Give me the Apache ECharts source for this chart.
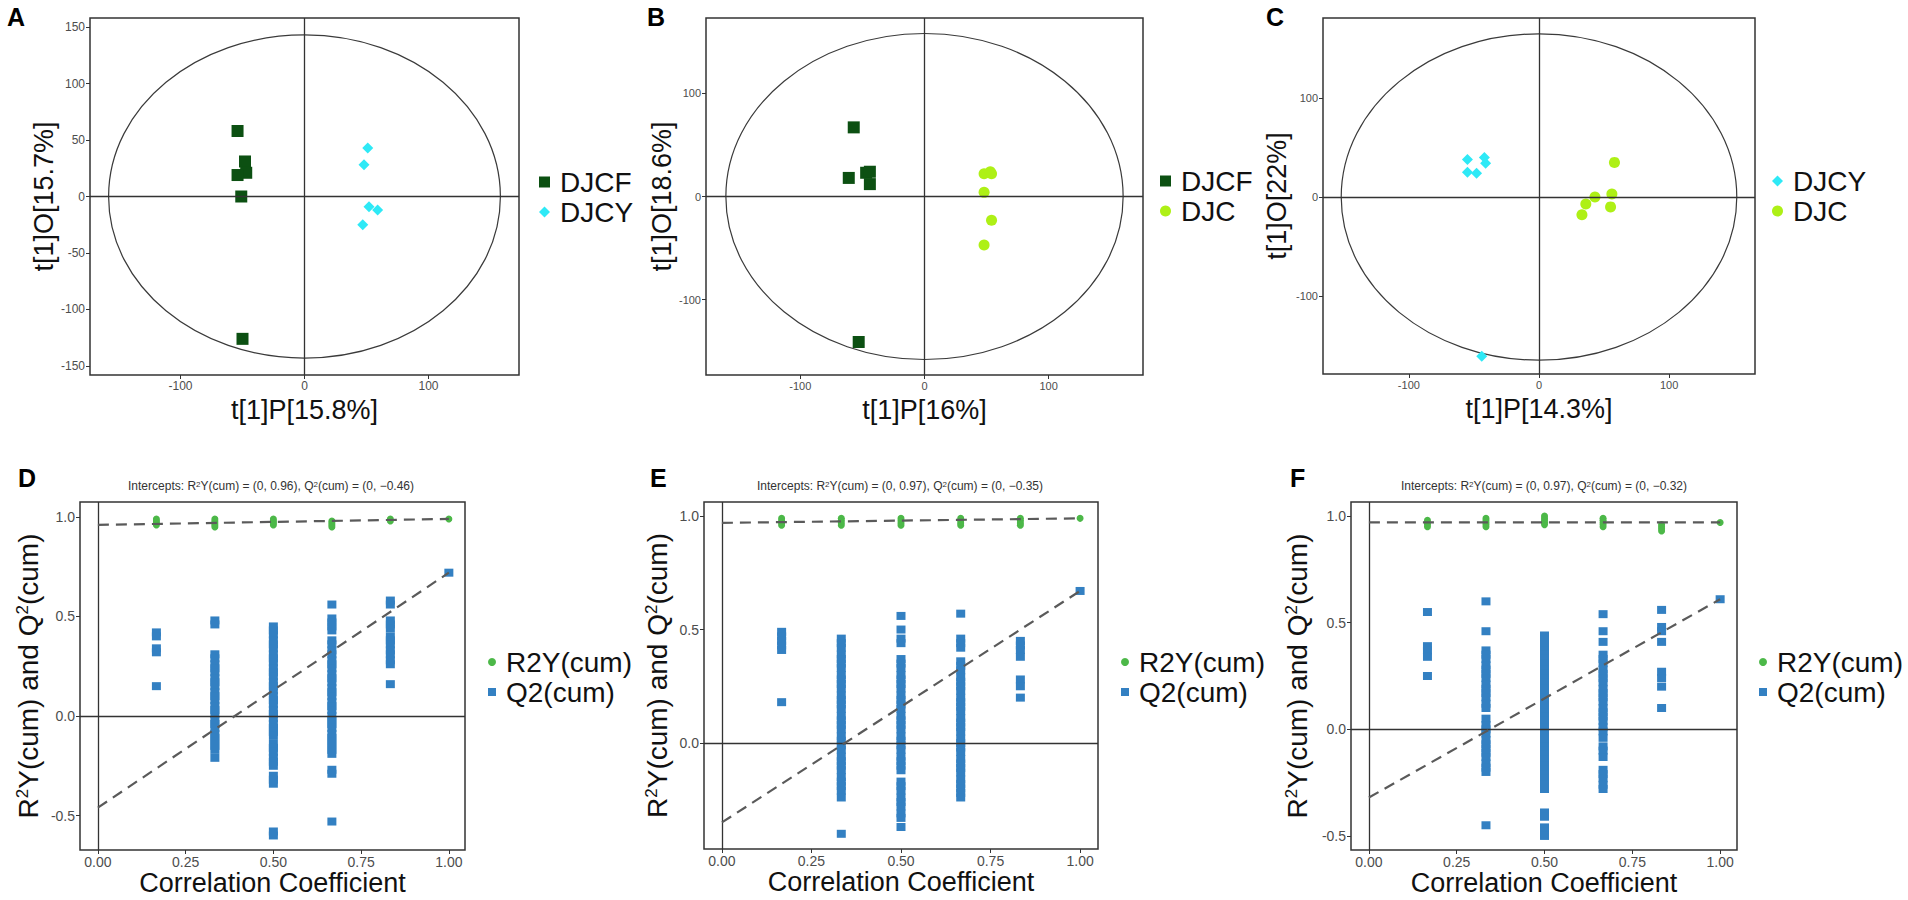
<!DOCTYPE html>
<html>
<head>
<meta charset="utf-8">
<title>OPLS-DA scores and permutation tests</title>
<script src="https://cdn.jsdelivr.net/npm/echarts@6.0.0/dist/echarts.min.js"></script>
<style>
  html, body { margin: 0; padding: 0; background: #fff; }
  #chart { width: 1908px; height: 900px; }
</style>
</head>
<body>
<div id="chart"></div>
<script>
// score plots (A-C): [t1P, t1O]
var aDJCF = [[-54, 58], [-48, 31], [-47, 21], [-54, 19], [-51, 0], [-50, -126]];
var aDJCY = [[51, 43], [48, 28], [52, -9], [59, -12], [47, -25]];
var bDJCF = [[-57, 67], [-61, 18], [-47, 23], [-44, 24], [-44, 12], [-53, -141]];
var bDJC = [[48, 22], [53, 24], [54, 22], [48, 4], [54, -23], [48, -47]];
var cDJCY = [[-55, 38], [-42, 40], [-41, 34], [-55, 25], [-48, 24], [-44, -161]];
var cDJC = [[58, 35], [43, 0], [56, 3], [36, -7], [55, -10], [33, -18]];

// Hotelling ellipse half axes [x, y]
var aEllipse = [158, 143];
var bEllipse = [160, 158];
var cEllipse = [152, 165];

var scoreTicksA = { x: [-100, 0, 100], y: [-150, -100, -50, 0, 50, 100, 150] };
var scoreTicksB = { x: [-100, 0, 100], y: [-100, 0, 100] };
var scoreTicksC = { x: [-100, 0, 100], y: [-100, 0, 100] };

// permutation plots (D-F)
var permX = [0.1667, 0.3333, 0.5, 0.6667, 0.8333, 1];
var permTicksX = [0, 0.25, 0.5, 0.75, 1];
var permTicksY = [-0.5, 0, 0.5, 1];
var permTicksYE = [0, 0.5, 1];

var dR2 = [[0.99, 0.98, 0.97, 0.96], [0.99, 0.98, 0.97, 0.96, 0.95], [0.99, 0.98, 0.97, 0.96],
  [0.98, 0.97, 0.96, 0.95], [0.99, 0.98], [0.99]];
var dQ2 = [
  [0.42, 0.40, 0.34, 0.32, 0.15],
  [0.48, 0.46, 0.31, 0.29, 0.26, 0.24, 0.22, 0.19, 0.17, 0.15, 0.12, 0.10, 0.08, 0.05, 0.03, 0.01, -0.02, -0.04, -0.06, -0.09, -0.11, -0.13, -0.15, -0.17, -0.21],
  [0.45, 0.43, 0.41, 0.38, 0.36, 0.34, 0.31, 0.29, 0.27, 0.24, 0.22, 0.20, 0.17, 0.15, 0.13, 0.10, 0.08, 0.06, 0.03, 0.01, -0.01, -0.04, -0.06, -0.08, -0.10, -0.14, -0.16, -0.18, -0.21, -0.23, -0.25, -0.30, -0.32, -0.34, -0.58, -0.60],
  [0.56, 0.49, 0.47, 0.45, 0.43, 0.38, 0.36, 0.33, 0.31, 0.28, 0.26, 0.24, 0.21, 0.19, 0.17, 0.14, 0.12, 0.10, 0.07, 0.05, 0.03, 0.00, -0.02, -0.04, -0.06, -0.09, -0.11, -0.13, -0.15, -0.17, -0.19, -0.27, -0.29, -0.53],
  [0.58, 0.56, 0.48, 0.46, 0.44, 0.40, 0.38, 0.36, 0.33, 0.31, 0.28, 0.26, 0.16],
  [0.72]
];
var dR2Line = [[0, 0.96], [1, 0.99]];
var dQ2Line = [[0, -0.46], [1, 0.72]];

var eR2 = [[0.99, 0.98, 0.97, 0.96], [0.99, 0.98, 0.97, 0.96], [0.99, 0.98, 0.97, 0.96],
  [0.99, 0.98, 0.97, 0.96], [0.99, 0.98, 0.97, 0.96], [0.99]];
var eQ2 = [
  [0.49, 0.47, 0.45, 0.43, 0.41, 0.18],
  [0.46, 0.44, 0.42, 0.39, 0.37, 0.35, 0.33, 0.30, 0.28, 0.26, 0.24, 0.21, 0.19, 0.17, 0.15, 0.12, 0.10, 0.08, 0.06, 0.03, 0.01, -0.01, -0.03, -0.06, -0.08, -0.10, -0.12, -0.15, -0.17, -0.19, -0.21, -0.24, -0.40],
  [0.56, 0.50, 0.46, 0.44, 0.37, 0.35, 0.33, 0.30, 0.28, 0.26, 0.24, 0.21, 0.19, 0.17, 0.15, 0.12, 0.10, 0.08, 0.06, 0.03, 0.01, -0.01, -0.03, -0.06, -0.08, -0.10, -0.12, -0.17, -0.19, -0.21, -0.24, -0.26, -0.28, -0.31, -0.33, -0.37],
  [0.57, 0.46, 0.44, 0.42, 0.36, 0.34, 0.32, 0.29, 0.27, 0.25, 0.23, 0.20, 0.18, 0.16, 0.14, 0.11, 0.09, 0.07, 0.05, 0.02, 0.00, -0.02, -0.04, -0.07, -0.09, -0.11, -0.13, -0.16, -0.18, -0.20, -0.22, -0.24],
  [0.45, 0.43, 0.41, 0.38, 0.28, 0.25, 0.20],
  [0.67]
];
var eR2Line = [[0, 0.97], [1, 0.99]];
var eQ2Line = [[0, -0.35], [1, 0.67]];

var fR2 = [[0.98, 0.97, 0.96, 0.95], [0.99, 0.98, 0.97, 0.96, 0.95], [1.0, 0.99, 0.98, 0.97, 0.96],
  [0.99, 0.98, 0.97, 0.96, 0.95], [0.96, 0.95, 0.94, 0.93], [0.97]];
var fQ2 = [
  [0.55, 0.39, 0.37, 0.34, 0.25],
  [0.60, 0.46, 0.37, 0.35, 0.33, 0.30, 0.28, 0.26, 0.24, 0.21, 0.19, 0.17, 0.15, 0.12, 0.10, 0.05, 0.02, 0.00, -0.02, -0.05, -0.07, -0.09, -0.11, -0.13, -0.16, -0.18, -0.20, -0.45],
  [0.44, 0.42, 0.40, 0.37, 0.35, 0.33, 0.31, 0.28, 0.26, 0.24, 0.22, 0.19, 0.17, 0.15, 0.13, 0.10, 0.08, 0.06, 0.04, 0.01, -0.01, -0.03, -0.05, -0.08, -0.10, -0.12, -0.14, -0.17, -0.19, -0.21, -0.23, -0.26, -0.28, -0.39, -0.41, -0.46, -0.48, -0.50],
  [0.54, 0.46, 0.41, 0.35, 0.33, 0.31, 0.28, 0.26, 0.24, 0.22, 0.19, 0.17, 0.15, 0.13, 0.10, 0.08, 0.06, 0.04, 0.01, -0.01, -0.04, -0.08, -0.10, -0.13, -0.19, -0.21, -0.23, -0.26, -0.28],
  [0.56, 0.48, 0.46, 0.41, 0.27, 0.24, 0.20, 0.10],
  [0.61]
];
var fR2Line = [[0, 0.97], [1, 0.97]];
var fQ2Line = [[0, -0.32], [1, 0.61]];

var intercepts = [['0.96', '\u22120.46'], ['0.97', '\u22120.35'], ['0.97', '\u22120.32']];

var FONT = '"Liberation Sans", Arial, sans-serif';
var NARROW = '"Liberation Sans Narrow", "Liberation Sans", Arial, sans-serif';
var C_DJCF = '#0c5012', C_DJCY = '#2ee9f6', C_DJC = '#aef016';
var C_R2 = '#4cb848', C_Q2 = '#3380c2';

var chart = echarts.init(document.getElementById('chart'), null, { renderer: 'svg' });

var toPairs = function (cols) {
  var out = [];
  cols.forEach(function (vals, i) {
    vals.forEach(function (v) { out.push([permX[i], v]); });
  });
  return out;
};

var makeAxis = function (idx, min, max, ticks, fmt, labelSize, name, nameGap, rich) {
  var ax = {
    type: 'value', gridIndex: idx, min: min, max: max,
    name: name, nameLocation: 'middle', nameGap: nameGap,
    nameTextStyle: { fontSize: rich ? 28 : 27, color: '#111', fontFamily: FONT },
    axisLine: { show: false, onZero: false },
    axisTick: { show: true, length: 4, customValues: ticks, lineStyle: { color: '#333' } },
    axisLabel: { customValues: ticks, formatter: fmt, fontSize: labelSize, color: '#4d4d4d', fontFamily: NARROW, margin: 5 },
    splitLine: { show: false }
  };
  if (rich) {
    ax.nameTextStyle.rich = {
      a: { fontSize: 28, color: '#111', fontFamily: FONT },
      s: { fontSize: 17, color: '#111', fontFamily: FONT, verticalAlign: 'top' }
    };
  }
  return ax;
};

var intFmt = function (v) { return String(Math.round(v)); };
var fix2 = function (v) { return v.toFixed(2); };
var fix1 = function (v) { return v.toFixed(1); };

var grids = [
  { left: 90, top: 18, width: 429, height: 357 },
  { left: 706, top: 18, width: 437, height: 357 },
  { left: 1323, top: 18, width: 432, height: 356 },
  { left: 80, top: 502, width: 385, height: 348 },
  { left: 704, top: 502, width: 394, height: 347 },
  { left: 1351, top: 502, width: 386, height: 348 }
].map(function (g) {
  g.show = true; g.borderColor = '#333'; g.borderWidth = 1.5; g.backgroundColor = 'transparent';
  return g;
});

var permYName = '{a|R}{s|2}{a|Y(cum) and Q}{s|2}{a|(cum)}';

var xAxes = [
  makeAxis(0, -173, 173, scoreTicksA.x, intFmt, 12, 't[1]P[15.8%]', 21),
  makeAxis(1, -176, 176, scoreTicksB.x, intFmt, 11, 't[1]P[16%]', 21),
  makeAxis(2, -166, 166, scoreTicksC.x, intFmt, 11, 't[1]P[14.3%]', 21),
  makeAxis(3, -0.051, 1.046, permTicksX, fix2, 14, 'Correlation Coefficient', 19),
  makeAxis(4, -0.05, 1.05, permTicksX, fix2, 14, 'Correlation Coefficient', 19),
  makeAxis(5, -0.051, 1.048, permTicksX, fix2, 14, 'Correlation Coefficient', 19)
];
var yAxes = [
  makeAxis(0, -158, 158, scoreTicksA.y, intFmt, 12, 't[1]O[15.7%]', 33),
  makeAxis(1, -173, 173, scoreTicksB.y, intFmt, 11, 't[1]O[18.6%]', 31),
  makeAxis(2, -179, 181, scoreTicksC.y, intFmt, 11, 't[1]O[22%]', 33),
  makeAxis(3, -0.673, 1.075, permTicksY, fix1, 14, permYName, 38, true),
  makeAxis(4, -0.467, 1.062, permTicksYE, fix1, 14, permYName, 33, true),
  makeAxis(5, -0.566, 1.066, permTicksY, fix1, 14, permYName, 40, true)
];

var zeroLines = function (idx) {
  return {
    type: 'line', xAxisIndex: idx, yAxisIndex: idx, data: [], z: 1,
    markLine: {
      silent: true, symbol: 'none', label: { show: false }, animation: false,
      lineStyle: { color: '#333', width: 1.3, type: 'solid' },
      data: [{ xAxis: 0 }, { yAxis: 0 }]
    }
  };
};

var ellipse = function (idx, radii) {
  return {
    type: 'custom', xAxisIndex: idx, yAxisIndex: idx, data: [[0, 0]], silent: true, z: 1,
    renderItem: function (params, api) {
      var c = api.coord([0, 0]);
      var s = api.size([radii[0], radii[1]]);
      return {
        type: 'ellipse',
        shape: { cx: c[0], cy: c[1], rx: s[0], ry: s[1] },
        style: { fill: 'none', stroke: '#3a3a3a', lineWidth: 1.2 }
      };
    }
  };
};

var scatter = function (idx, name, data, symbol, size, color) {
  return {
    type: 'scatter', name: name, xAxisIndex: idx, yAxisIndex: idx, data: data,
    symbol: symbol, symbolSize: size, itemStyle: { color: color, opacity: 1 }, z: 3
  };
};

var dashed = function (idx, data) {
  return {
    type: 'line', xAxisIndex: idx, yAxisIndex: idx, data: data, showSymbol: false, symbol: 'none', z: 5,
    lineStyle: { color: '#5a5a5a', width: 2.2, type: [11, 7] }
  };
};

var series = [];
[[aEllipse, 0], [bEllipse, 1], [cEllipse, 2]].forEach(function (p) {
  series.push(ellipse(p[1], p[0]));
  series.push(zeroLines(p[1]));
});
series.push(scatter(0, 'DJCF', aDJCF, 'rect', 12, C_DJCF));
series.push(scatter(0, 'DJCY', aDJCY, 'diamond', 11, C_DJCY));
series.push(scatter(1, 'DJCF', bDJCF, 'rect', 12, C_DJCF));
series.push(scatter(1, 'DJC', bDJC, 'circle', 11, C_DJC));
series.push(scatter(2, 'DJCY', cDJCY, 'diamond', 11, C_DJCY));
series.push(scatter(2, 'DJC', cDJC, 'circle', 11, C_DJC));

[[dR2, dQ2, dR2Line, dQ2Line], [eR2, eQ2, eR2Line, eQ2Line], [fR2, fQ2, fR2Line, fQ2Line]].forEach(function (p, i) {
  var idx = i + 3;
  series.push(zeroLines(idx));
  series.push(scatter(idx, 'Q2(cum)', toPairs(p[1]), 'rect', [9, 8], C_Q2));
  series.push(scatter(idx, 'R2Y(cum)', toPairs(p[0]), 'circle', 7, C_R2));
  series.push(dashed(idx, p[2]));
  series.push(dashed(idx, p[3]));
});

var legendBase = function (left, top, names, size) {
  return {
    left: left, top: top, orient: 'vertical', itemGap: 2, itemWidth: size, itemHeight: size,
    selectedMode: false, data: names, padding: 0,
    textStyle: { fontSize: 28, color: '#111', fontFamily: FONT, padding: [0, 0, 0, 5] }
  };
};

var legends = [
  legendBase(539, 168, ['DJCF', 'DJCY'], 11),
  legendBase(1160, 167, ['DJCF', 'DJC'], 11),
  legendBase(1772, 167, ['DJCY', 'DJC'], 11),
  legendBase(488, 648, ['R2Y(cum)', 'Q2(cum)'], 8),
  legendBase(1121, 648, ['R2Y(cum)', 'Q2(cum)'], 8),
  legendBase(1759, 648, ['R2Y(cum)', 'Q2(cum)'], 8)
];

var letter = function (t, left, top) {
  return { text: t, left: left, top: top, padding: 0, textStyle: { fontSize: 25, fontWeight: 'bold', color: '#000', fontFamily: FONT } };
};
var subtitle = function (vals, center) {
  return {
    text: 'Intercepts: R{s|2}Y(cum) = (0, ' + vals[0] + '), Q{s|2}(cum) = (0, ' + vals[1] + ')',
    left: center, top: 480, padding: 0, textAlign: 'center',
    textStyle: {
      fontSize: 12, color: '#333', fontFamily: NARROW, fontWeight: 'normal',
      rich: { s: { fontSize: 8, color: '#333', fontFamily: NARROW, verticalAlign: 'top' } }
    }
  };
};

var titles = [
  letter('A', 7, 4), letter('B', 647, 4), letter('C', 1266, 4),
  letter('D', 18, 465), letter('E', 650, 465), letter('F', 1290, 465),
  subtitle(intercepts[0], 271), subtitle(intercepts[1], 900), subtitle(intercepts[2], 1544)
];

chart.setOption({
  animation: false,
  backgroundColor: '#fff',
  title: titles,
  legend: legends,
  grid: grids,
  xAxis: xAxes,
  yAxis: yAxes,
  series: series
});
</script>
</body>
</html>
